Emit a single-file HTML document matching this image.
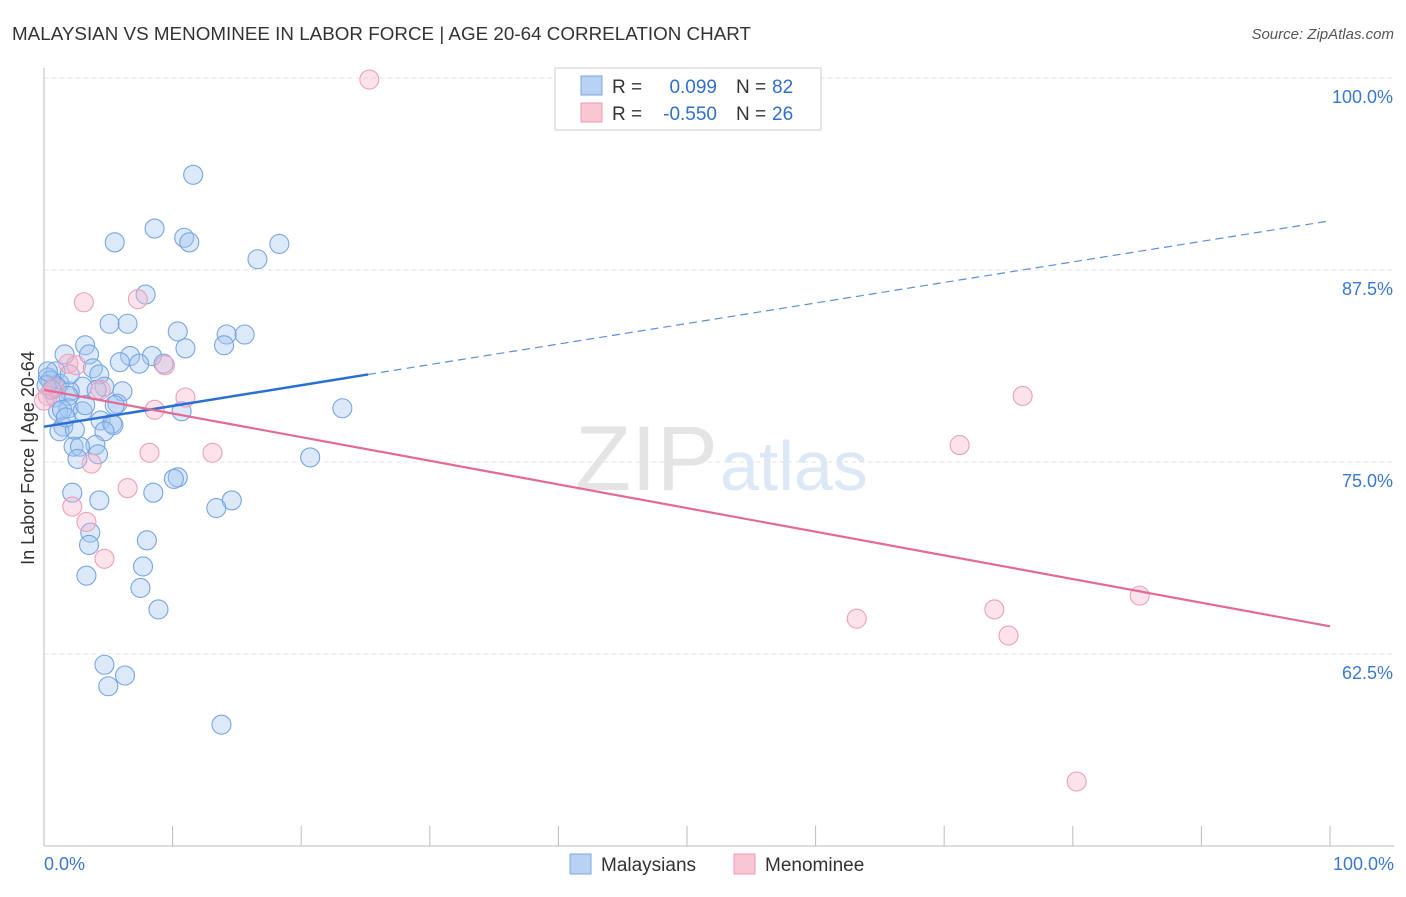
<!DOCTYPE html>
<html><head><meta charset="utf-8"><style>
body{margin:0;background:#fff;font-family:"Liberation Sans",sans-serif;}
svg text{font-family:"Liberation Sans",sans-serif;}
</style></head><body>
<svg width="1406" height="892" viewBox="0 0 1406 892">
<text x="12" y="40" font-size="18.8" fill="#333" textLength="739">MALAYSIAN VS MENOMINEE IN LABOR FORCE | AGE 20-64 CORRELATION CHART</text>
<text x="1394" y="39" font-size="15" fill="#555" font-style="italic" text-anchor="end">Source: ZipAtlas.com</text>
<g id="grid"></g>
<g id="axes"></g>
<text x="718" y="490" font-size="92" fill="#e4e4e4" text-anchor="end" font-family="Liberation Serif">ZIP</text>
<text x="720" y="490" font-size="70" fill="#dce8f6">atlas</text>
<g id="pts"></g>
<g id="trend"></g>
<text x="34" y="458" font-size="18" fill="#333" text-anchor="middle" transform="rotate(-90 34 458)">In Labor Force | Age 20-64</text>
<g>
<rect x="555" y="68" width="266" height="62" fill="#fff" stroke="#ccc"/>
<rect x="581" y="76" width="21" height="19" fill="#b8d2f4" stroke="#7aa6e0"/>
<rect x="581" y="103" width="21" height="19" fill="#f9c6d4" stroke="#ee9ab2"/>
<g font-size="19">
<text x="612" y="93" fill="#333">R =</text><text x="717" y="93" fill="#2f6fd0" text-anchor="end">0.099</text>
<text x="736" y="93" fill="#333">N =</text><text x="772" y="93" fill="#2f6fd0">82</text></g>
<g font-size="19">
<text x="612" y="120" fill="#333">R =</text><text x="717" y="120" fill="#2f6fd0" text-anchor="end">-0.550</text>
<text x="736" y="120" fill="#333">N =</text><text x="772" y="120" fill="#2f6fd0">26</text></g>
</g>
<g>
<rect x="570" y="854" width="21" height="20" fill="#b8d2f4" stroke="#7aa6e0"/>
<text x="601" y="871" font-size="19" fill="#333">Malaysians</text>
<rect x="734" y="854" width="21" height="20" fill="#f9c6d4" stroke="#ee9ab2"/>
<text x="765" y="871" font-size="19" fill="#333">Menominee</text>
</g>
</svg>
<script>
const yTicks=[100,87.5,75,62.5];
const yTickLabels=["100.0%","87.5%","75.0%","62.5%"];
const xTicks=[0,10,20,30,40,50,60,70,80,90,100];
const blueX=[11.6,8.6,5.5,10.9,11.3,18.3,16.6,7.9,5.1,6.5,10.4,14.2,15.6,3.2,14.0,11.0,1.6,3.5,6.7,8.4,5.9,7.4,9.3,3.8,0.9,4.3,0.3,1.2,1.0,3.0,4.7,6.1,4.1,2.0,1.9,0.9,5.7,5.5,1.9,3.0,23.2,10.7,1.1,4.4,5.3,5.4,1.5,4.7,1.2,4.0,2.3,2.8,4.2,2.6,20.7,10.4,10.1,2.2,8.5,4.3,14.6,13.4,3.6,8.0,3.5,7.7,3.3,7.5,8.9,4.7,6.3,5.0,13.8,0.5,0.6,0.2,0.3,1.4,2.4,1.7,3.2,2.0];
const blueY=[93.7,90.2,89.3,89.6,89.3,89.2,88.2,85.9,84.0,84.0,83.5,83.3,83.3,82.6,82.6,82.4,82.0,82.0,81.9,81.9,81.5,81.4,81.4,81.1,80.9,80.7,80.5,80.1,79.9,79.9,79.9,79.6,79.7,79.6,79.3,79.2,78.8,78.7,78.5,78.3,78.5,78.3,78.3,77.7,77.5,77.4,77.3,77.0,77.0,76.1,76.0,76.0,75.5,75.2,75.3,74.0,73.9,73.0,73.0,72.5,72.5,72.0,70.4,69.9,69.6,68.2,67.6,66.8,65.4,61.8,61.1,60.4,57.9,80.3,79.7,80.0,80.9,78.4,77.1,77.9,78.7,80.7];
const pinkX=[25.3,3.1,7.3,9.4,1.9,2.5,4.4,11.0,76.1,8.6,0.3,0.8,8.2,13.1,71.2,3.7,6.5,2.2,3.3,4.7,85.2,63.2,73.9,75.0,80.3,0.0];
const pinkY=[99.9,85.4,85.6,81.3,81.4,81.3,79.7,79.2,79.3,78.4,79.3,79.8,75.6,75.6,76.1,74.9,73.3,72.1,71.1,68.7,66.3,64.8,65.4,63.7,54.2,79.0];
const blueTrendX=[0,25.2,100];
const blueTrendY=[77.3,80.7,90.7];
const pinkTrendX=[0,100];
const pinkTrendY=[79.7,64.3];
const NS="http://www.w3.org/2000/svg";
const sx=v=>44+v*12.86;
const sy=v=>78+(100-v)*15.36;
function mk(tag,attrs,parent){const e=document.createElementNS(NS,tag);for(const k in attrs)e.setAttribute(k,attrs[k]);parent.appendChild(e);return e;}
const grid=document.getElementById('grid'),axes=document.getElementById('axes'),pts=document.getElementById('pts'),trend=document.getElementById('trend');
yTicks.forEach((t,i)=>{
 const l=mk('line',{x1:44,x2:1394,y1:sy(t),y2:sy(t),stroke:'#e2e2e2','stroke-dasharray':'4,4'},grid);
 
 
 const tx=mk('text',{x:1393,y:sy(t)+25,'font-size':18,fill:'#3a78d4','text-anchor':'end'},axes);
 tx.textContent=yTickLabels[i];
 
 
});
const ya=mk('line',{x1:44,x2:44,y1:68,y2:846,stroke:'#bbb'},axes);


const xa=mk('line',{x1:44,x2:1394,y1:846,y2:846,stroke:'#bbb'},axes);


xTicks.forEach(t=>{
 const l=mk('line',{x1:sx(t),x2:sx(t),y1:826,y2:846,stroke:'#bbb'},axes);
 
 
});
const x0=mk('text',{x:44,y:870,'font-size':18,fill:'#3a78d4'},axes);x0.textContent='0.0%';


const x1=mk('text',{x:1394,y:870,'font-size':18,fill:'#3a78d4','text-anchor':'end'},axes);x1.textContent='100.0%';


blueX.forEach((v,i)=>{
 const c=mk('circle',{cx:sx(v),cy:sy(blueY[i]),r:9.5,fill:'rgba(160,196,240,0.38)',stroke:'#77a5e4','stroke-width':1.1},pts);
 
 
});
pinkX.forEach((v,i)=>{
 const c=mk('circle',{cx:sx(v),cy:sy(pinkY[i]),r:9.5,fill:'rgba(246,180,202,0.38)',stroke:'#eea0b8','stroke-width':1.1},pts);
 
 
});
const b1=mk('line',{x1:sx(blueTrendX[0]),y1:sy(blueTrendY[0]),x2:sx(blueTrendX[1]),y2:sy(blueTrendY[1]),stroke:'#2a6fd4','stroke-width':2.5},trend);


const b2=mk('line',{x1:sx(blueTrendX[1]),y1:sy(blueTrendY[1]),x2:sx(blueTrendX[2]),y2:sy(blueTrendY[2]),stroke:'#5b8fd8','stroke-width':1.2,'stroke-dasharray':'8,5'},trend);


const p1=mk('line',{x1:sx(pinkTrendX[0]),y1:sy(pinkTrendY[0]),x2:sx(pinkTrendX[1]),y2:sy(pinkTrendY[1]),stroke:'#e36a96','stroke-width':2.2},trend);


</script>
</body></html>
